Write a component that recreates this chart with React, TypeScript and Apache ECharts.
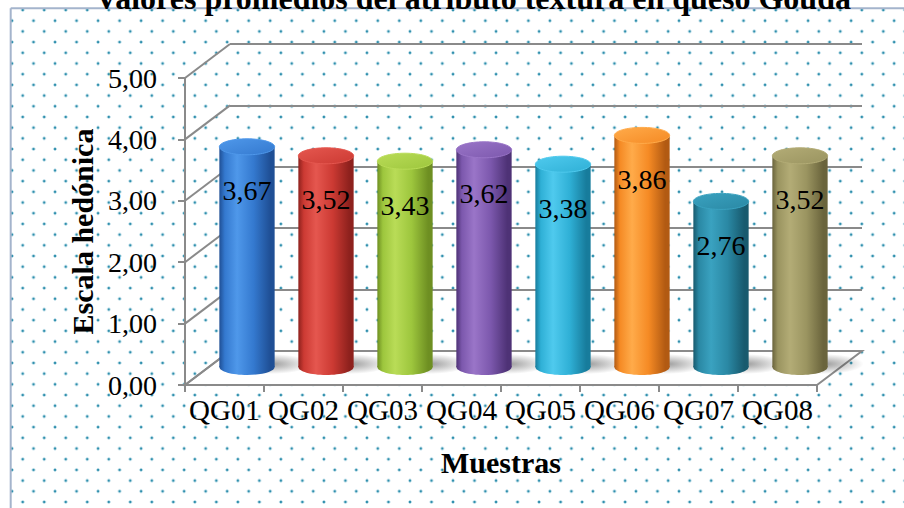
import React, { useEffect, useRef } from 'react';
import * as echarts from 'echarts';

// ---- data ----
const categories = ['QG01', 'QG02', 'QG03', 'QG04', 'QG05', 'QG06', 'QG07', 'QG08'];
const values = [3.67, 3.52, 3.43, 3.62, 3.38, 3.86, 2.76, 3.52];
const yTicks = [0, 1, 2, 3, 4, 5];
const titleText = 'Valores promedios del atributo textura en queso Gouda';
const xName = 'Muestras';
const yName = 'Escala hedónica';

// ---- styles ----
const barColors = [
  { dark: '#1f4f95', light: '#4f98ea', base: '#3479cf' },
  { dark: '#8e211d', light: '#e5574f', base: '#cc3a33' },
  { dark: '#6e8f22', light: '#b9dc57', base: '#9dc63d' },
  { dark: '#4e3276', light: '#9a75c8', base: '#7c58ad' },
  { dark: '#177c9c', light: '#4fcaee', base: '#2fb0d6' },
  { dark: '#b25a12', light: '#ffab4a', base: '#f58a24' },
  { dark: '#185a6e', light: '#3aa2c0', base: '#2a88a4' },
  { dark: '#6a643c', light: '#b3ac76', base: '#9a9460' },
];
const SERIF = 'Liberation Serif';
const GRID_COLOR = '#8a8a8a';
const DX = 45;
const DY = -34;
const FRONT = { left: 185, top: 78, width: 632, height: 307 };
const BACK = { left: FRONT.left + DX, top: FRONT.top + DY, width: 632, height: 307 };
const MID = { left: FRONT.left + DX / 2, top: 67, width: 632, height: 300 };

const fmt = (v: number) => v.toFixed(2).replace('.', ',');

export default function App() {
  const ref = useRef<HTMLDivElement>(null);
  useEffect(() => {
    if (!ref.current) return;
    const chart = echarts.init(ref.current, undefined, { renderer: 'svg' });
    const option: any = {
      animation: false,
      backgroundColor: 'transparent',
      textStyle: { fontFamily: SERIF },
      graphic: [
        {
          type: 'line',
          z: 1,
          shape: { x1: 10.7, y1: 8.3, x2: 904, y2: 8.3 },
          style: { stroke: '#a4b4cc', lineWidth: 2 },
        },
        {
          type: 'line',
          z: 1,
          shape: { x1: 10.7, y1: 8.3, x2: 10.7, y2: 508 },
          style: { stroke: '#a4b4cc', lineWidth: 2 },
        },
        {
          type: 'text',
          z: 10,
          style: {
            text: titleText,
            x: 473,
            y: -2.5,
            align: 'center',
            verticalAlign: 'middle',
            fontSize: 32,
            fontWeight: 'bold',
            fontFamily: SERIF,
            fill: '#000',
          },
        },
      ],
      grid: [
        { ...FRONT },
        { ...BACK },
        { ...MID },
      ],
      xAxis: [
        {
          gridIndex: 0,
          type: 'category',
          data: categories,
          axisLine: { show: true, lineStyle: { color: GRID_COLOR, width: 2 } },
          axisTick: { show: true, length: 7, lineStyle: { color: GRID_COLOR, width: 2 } },
          axisLabel: { color: '#000', fontSize: 29, fontFamily: SERIF, margin: 10, interval: 0 },
          splitLine: { show: false },
          name: xName,
          nameLocation: 'middle',
          nameGap: 62,
          nameTextStyle: { color: '#000', fontSize: 30, fontWeight: 'bold', fontFamily: SERIF },
        },
        {
          gridIndex: 1,
          type: 'category',
          data: categories,
          axisLine: { show: false },
          axisTick: { show: false },
          axisLabel: { show: false },
        },
        { gridIndex: 2, type: 'category', data: categories, show: false },
      ],
      yAxis: [
        {
          gridIndex: 0,
          type: 'value',
          min: 0,
          max: 5,
          interval: 1,
          axisLine: { show: true, lineStyle: { color: GRID_COLOR, width: 2 } },
          axisTick: { show: true, length: 7, lineStyle: { color: GRID_COLOR, width: 2 } },
          axisLabel: { color: '#000', fontSize: 28, fontFamily: SERIF, margin: 28, formatter: (v: number) => fmt(v) },
          splitLine: { show: false },
          name: yName,
          nameLocation: 'middle',
          nameGap: 86,
          nameRotate: 90,
          nameTextStyle: { color: '#000', fontSize: 30, fontWeight: 'bold', fontFamily: SERIF },
        },
        {
          gridIndex: 1,
          type: 'value',
          min: 0,
          max: 5,
          interval: 1,
          axisLine: { show: false },
          axisTick: { show: false },
          axisLabel: { show: false },
          splitLine: { show: true, lineStyle: { color: GRID_COLOR, width: 2 } },
        },
        { gridIndex: 2, type: 'value', min: 0, max: 5, interval: 1, show: false },
      ],
      series: [
        {
          type: 'custom',
          name: 'floor',
          xAxisIndex: 0,
          yAxisIndex: 0,
          z: 1,
          silent: true,
          data: [[0, 0]],
          renderItem: (params: any, api: any) => {
            const cs = params.coordSys;
            const y0 = api.coord([0, 0])[1];
            const xl = cs.x;
            const xr = cs.x + cs.width;
            return {
              type: 'polygon',
              shape: {
                points: [
                  [xl, y0],
                  [xr, y0],
                  [xr + DX, y0 + DY],
                  [xl + DX, y0 + DY],
                ],
              },
              style: { fill: '#ffffff', stroke: GRID_COLOR, lineWidth: 2 },
            };
          },
        },
        {
          type: 'custom',
          name: 'leftWall',
          xAxisIndex: 0,
          yAxisIndex: 0,
          z: 2,
          silent: true,
          data: yTicks.map((t) => [0, t]),
          renderItem: (params: any, api: any) => {
            const cs = params.coordSys;
            const y = api.coord([0, api.value(1)])[1];
            return {
              type: 'line',
              shape: { x1: cs.x, y1: y, x2: cs.x + DX, y2: y + DY },
              style: { stroke: GRID_COLOR, lineWidth: 2 },
            };
          },
        },
        {
          type: 'custom',
          name: 'Escala hedónica',
          xAxisIndex: 2,
          yAxisIndex: 2,
          z: 5,
          data: values.map((v, i) => [i, v]),
          renderItem: (params: any, api: any) => {
            const i = params.dataIndex;
            const v = api.value(1);
            const top = api.coord([api.value(0), v]);
            const base = api.coord([api.value(0), 0]);
            const band = api.size([1, 0])[0];
            const rx = band * 0.35;
            const ry = 8;
            const c = barColors[i % barColors.length];
            const bodyGrad = () =>
              new echarts.graphic.LinearGradient(0, 0, 1, 0, [
                { offset: 0, color: c.dark },
                { offset: 0.1, color: c.base },
                { offset: 0.32, color: c.light },
                { offset: 0.62, color: c.base },
                { offset: 0.92, color: c.dark },
                { offset: 1, color: c.dark },
              ]);
            const topGrad = new echarts.graphic.LinearGradient(0, 0, 1, 1, [
              { offset: 0, color: c.light },
              { offset: 1, color: c.base },
            ]);
            return {
              type: 'group',
              children: [
                {
                  type: 'ellipse',
                  shape: { cx: base[0] + rx * 0.9, cy: base[1] - 3, rx: rx * 1.4, ry: ry * 1.25 },
                  style: {
                    fill: new echarts.graphic.RadialGradient(0.5, 0.5, 0.5, [
                      { offset: 0, color: 'rgba(60,60,60,0.5)' },
                      { offset: 1, color: 'rgba(60,60,60,0)' },
                    ]),
                  },
                },
                {
                  type: 'ellipse',
                  shape: { cx: base[0], cy: base[1], rx, ry },
                  style: { fill: bodyGrad() },
                },
                {
                  type: 'rect',
                  shape: { x: base[0] - rx, y: top[1], width: 2 * rx, height: base[1] - top[1] },
                  style: { fill: bodyGrad() },
                },
                {
                  type: 'ellipse',
                  shape: { cx: top[0], cy: top[1], rx, ry },
                  style: { fill: topGrad, stroke: c.light, lineWidth: 1 },
                },
                {
                  type: 'text',
                  style: {
                    text: fmt(v),
                    x: top[0],
                    y: top[1] + 44,
                    align: 'center',
                    verticalAlign: 'middle',
                    fontSize: 28,
                    fontFamily: SERIF,
                    fill: '#000',
                  },
                },
              ],
            };
          },
        },
      ],
    };
    chart.setOption(option);
    return () => chart.dispose();
  }, []);

  const dot =
    'radial-gradient(circle at center, #2f8fac 0px, #2f8fac 0.8px, rgba(70,160,190,0.45) 1.4px, rgba(255,255,255,0) 2px)';
  return (
    <div style={{ position: 'fixed', left: 0, top: 0, width: 904, height: 508, background: '#fff', overflow: 'hidden' }}>
      <div
        style={{
          position: 'absolute',
          left: 11,
          top: 9,
          width: 920,
          height: 520,
          backgroundImage: `${dot}, ${dot}`,
          backgroundSize: '21.53px 21.4px, 21.53px 21.4px',
          backgroundPosition: '0.95px -9.7px, -9.75px 1px',
        }}
      />
      <div ref={ref} style={{ position: 'absolute', left: 0, top: 0, width: 904, height: 508 }} />
    </div>
  );
}
